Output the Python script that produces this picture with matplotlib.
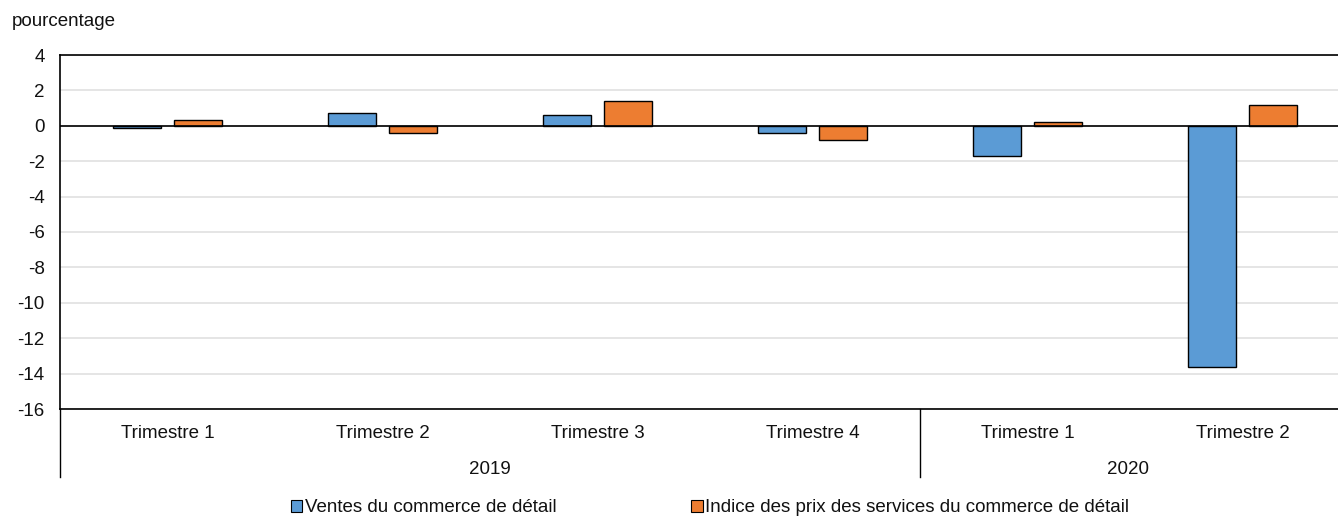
import matplotlib.pyplot as plt
from matplotlib.patches import Patch
from matplotlib.lines import Line2D
import numpy as np

# Data
quarters = ["Trimestre 1", "Trimestre 2", "Trimestre 3", "Trimestre 4", "Trimestre 1", "Trimestre 2"]
years = ["2019", "2020"]
year_counts = [4, 2]
ventes = [-0.1, 0.7, 0.6, -0.4, -1.7, -13.6]
prix = [0.3, -0.4, 1.4, -0.8, 0.2, 1.2]
series_names = ["Ventes du commerce de détail",
                "Indice des prix des services du commerce de détail"]

BLUE = "#5B9BD5"
ORANGE = "#ED7D31"

plt.rcParams['font.family'] = ['Liberation Sans Narrow', 'DejaVu Sans Condensed', 'Liberation Sans']
FS = 13.5

W, H = 1338, 517
AX_W = 1290  # plot area runs a little past the right edge of the picture
fig = plt.figure(figsize=(W / 100, H / 100), dpi=100)
ax = fig.add_axes([60 / W, 1 - 409 / H, AX_W / W, (409 - 55) / H])

x = np.arange(len(quarters))
width = 0.225
offset = 0.143
ax.bar(x - offset, ventes, width, color=BLUE, edgecolor="black", linewidth=1, zorder=3)
ax.bar(x + offset, prix, width, color=ORANGE, edgecolor="black", linewidth=1, zorder=3)

ax.set_xlim(-0.5, len(quarters) - 0.5)
ax.set_ylim(-16, 4)
ax.set_yticks(range(-16, 5, 2))
ax.set_yticklabels([str(v) for v in range(-16, 5, 2)])
ax.yaxis.grid(True, color="#E0E0E0", linewidth=1.2, zorder=0)
ax.axhline(0, color="black", linewidth=1.2, zorder=4)
ax.tick_params(axis="y", length=0, pad=11, labelsize=FS, labelcolor="#111111")
ax.set_xticks([])
for side in ["top", "left", "bottom"]:
    ax.spines[side].set_color("black")
    ax.spines[side].set_linewidth(1.2)
ax.spines["right"].set_visible(False)

# Category labels and year groups
trans = ax.get_xaxis_transform()
for i, q in enumerate(quarters):
    ax.text(i, -25 / 354, q, transform=trans, ha="center", va="center",
            fontsize=FS, color="#111111")

# right edge of the visible picture, in data units
vis_right = -0.5 + len(quarters) * (W - 1 - 60) / AX_W
start = 0
bottom = -(477 - 409) / 354
for yr, n in zip(years, year_counts):
    left_edge = start - 0.5
    right_edge = min(start + n - 0.5, vis_right)
    ax.text((left_edge + right_edge) / 2, -60 / 354, yr, transform=trans,
            ha="center", va="center", fontsize=FS, color="#111111")
    ax.add_line(Line2D([left_edge, left_edge], [0, bottom], transform=trans,
                       color="black", linewidth=1, clip_on=False))
    start += n

fig.text(12 / W, 1 - 22 / H, "pourcentage", ha="left", va="center",
         fontsize=FS, color="#111111")

handles = [Patch(facecolor=BLUE, edgecolor="black", linewidth=0.8),
           Patch(facecolor=ORANGE, edgecolor="black", linewidth=0.8)]
leg = fig.legend(handles, series_names, loc="center", bbox_to_anchor=(710 / W, 1 - 508 / H),
                 ncol=2, frameon=False, handlelength=0.6, handleheight=0.6,
                 handletextpad=0.15, columnspacing=7.2, fontsize=FS, borderaxespad=0)
for t in leg.get_texts():
    t.set_color("#111111")

fig.savefig("out.png", dpi=100)
